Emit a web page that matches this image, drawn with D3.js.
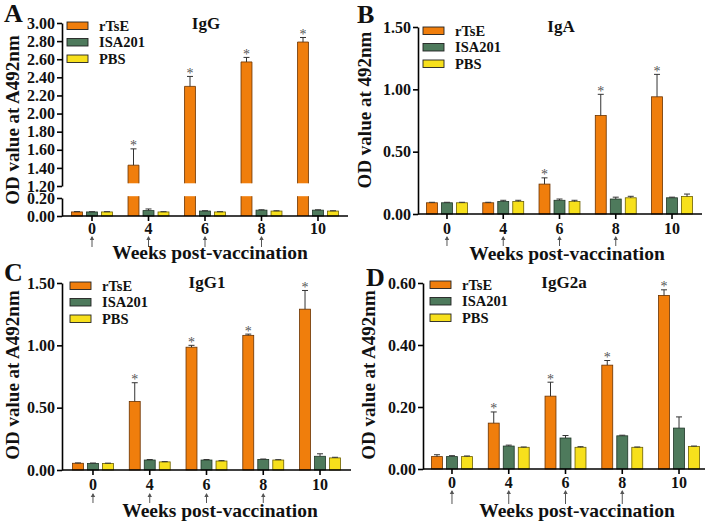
<!DOCTYPE html>
<html><head><meta charset="utf-8">
<script src="https://cdn.jsdelivr.net/npm/d3@7"></script>
<style>body{margin:0;background:#fff}svg{display:block}</style>
</head><body>
<svg id="c" width="708" height="527"></svg>
<script>
// ---------- data ----------
const weeks = ["0","4","6","8","10"];
const series = ["rTsE","ISA201","PBS"];
const arrowWeeks = ["0","4","6","8"];

// Panel A: IgG
const igG_rTsE   = [0.045,1.43,2.30,2.57,2.79];
const igG_rTsE_e = [0.004,0.18,0.11,0.05,0.05];
const igG_ISA    = [0.045,0.060,0.055,0.065,0.065];
const igG_ISA_e  = [0.003,0.018,0.004,0.004,0.004];
const igG_PBS    = [0.045,0.045,0.045,0.055,0.055];
const igG_PBS_e  = [0.003,0.003,0.003,0.003,0.003];
const igG_stars  = ["4","6","8","10"];
const igG_ticksUpper = [1.2,1.4,1.6,1.8,2.0,2.2,2.4,2.6,2.8,3.0];
const igG_ticksLower = [0,0.2];

// Panel B: IgA
const igA_rTsE   = [0.09,0.09,0.24,0.79,0.94];
const igA_rTsE_e = [0.004,0.004,0.05,0.17,0.18];
const igA_ISA    = [0.09,0.10,0.11,0.12,0.13];
const igA_ISA_e  = [0.004,0.01,0.01,0.015,0.005];
const igA_PBS    = [0.09,0.10,0.10,0.13,0.14];
const igA_PBS_e  = [0.004,0.01,0.01,0.012,0.02];
const igA_stars  = ["6","8","10"];
const igA_ticks  = [0,0.5,1.0,1.5];

// Panel C: IgG1
const igG1_rTsE   = [0.054,0.55,0.985,1.08,1.29];
const igG1_rTsE_e = [0.003,0.15,0.015,0.01,0.15];
const igG1_ISA    = [0.053,0.08,0.08,0.085,0.11];
const igG1_ISA_e  = [0.003,0.004,0.004,0.003,0.02];
const igG1_PBS    = [0.053,0.065,0.072,0.08,0.097];
const igG1_PBS_e  = [0.002,0.002,0.003,0.003,0.005];
const igG1_stars  = ["4","6","8","10"];
const igG1_ticks  = [0,0.5,1.0,1.5];

// Panel D: IgG2a
const igG2a_rTsE   = [0.04,0.148,0.235,0.335,0.56];
const igG2a_rTsE_e = [0.006,0.036,0.045,0.015,0.018];
const igG2a_ISA    = [0.04,0.074,0.10,0.107,0.132];
const igG2a_ISA_e  = [0.003,0.003,0.008,0.002,0.036];
const igG2a_PBS    = [0.04,0.07,0.07,0.07,0.073];
const igG2a_PBS_e  = [0.002,0.001,0.002,0.001,0.001];
const igG2a_stars  = ["4","6","8","10"];
const igG2a_ticks  = [0,0.2,0.4,0.6];

// ---------- drawing ----------
const colors = {rTsE:"#F07E0C", ISA201:"#4E7A5C", PBS:"#F7E01C"};
const strokes = {rTsE:"#6a3200", ISA201:"#1f3526", PBS:"#6b5f00"};
const FONT = "'Liberation Serif','Times New Roman',serif";
const svg = d3.select("#c");

function panel(cfg) {
  const g = svg.append("g");
  const x0 = d3.scaleBand().domain(weeks).range([cfg.xl, cfg.xr]);
  const x1 = d3.scaleBand().domain(series).range([-22.5, 22.5]).paddingInner(0.27).paddingOuter(0.135);
  const cx = w => x0(w) + x0.bandwidth()/2;

  let yLow, yUp, yv;
  if (cfg.broken) {
    yLow = d3.scaleLinear().domain([0,0.2]).range(cfg.lowRange);
    yUp = d3.scaleLinear().domain(cfg.upDomain).range(cfg.upRange);
    yv = v => v <= 0.2 ? yLow(v) : yUp(v);
  } else {
    yLow = d3.scaleLinear().domain(cfg.domain).range(cfg.range);
    yv = yLow;
  }

  // bars
  series.forEach((s, si) => {
    weeks.forEach((w, wi) => {
      const v = cfg.vals[si][wi], e = cfg.errs[si][wi];
      const bx = cx(w) + x1(s), bw = x1.bandwidth();
      if (cfg.broken && v > 0.2) {
        g.append("rect").attr("x", bx).attr("width", bw)
          .attr("y", yLow(0.22)).attr("height", yLow(0) - yLow(0.22))
          .attr("fill", colors[s]);
        g.append("rect").attr("x", bx).attr("width", bw)
          .attr("y", yUp(v)).attr("height", yUp(1.23) - yUp(v))
          .attr("fill", colors[s]);
        g.append("path").attr("d", `M${bx},${yUp(1.23)}V${yUp(v)}H${bx+bw}V${yUp(1.23)}M${bx},${yLow(0.22)}V${yLow(0)}M${bx+bw},${yLow(0.22)}V${yLow(0)}`)
          .attr("fill","none").attr("stroke", strokes[s]).attr("stroke-width",0.8);
      } else {
        g.append("rect").attr("x", bx).attr("width", bw)
          .attr("y", yv(v)).attr("height", yv(0) - yv(v))
          .attr("fill", colors[s]).attr("stroke", strokes[s]).attr("stroke-width",0.8);
      }
      // error bar
      const top = yv(v + e), bc = bx + bw/2;
      if (e > 0) {
        g.append("path").attr("d", `M${bc},${yv(v)}V${top}M${bc-3},${top}H${bc+3}`)
          .attr("stroke","#333").attr("stroke-width",1).attr("fill","none");
      }
      if (si === 0 && cfg.stars.includes(w)) {
        g.append("text").attr("x", bc).attr("y", top + 1.5)
          .attr("text-anchor","middle").attr("font-family",FONT)
          .attr("font-size",14).attr("fill","#555").text("*");
      }
    });
  });

  // y axis
  const styleAxis = sel => {
    sel.selectAll("path,line").attr("stroke","#000").attr("stroke-width",1.6);
    sel.selectAll("text").attr("font-family",FONT).attr("font-weight","bold")
      .attr("font-size",16).attr("fill","#111");
  };
  if (cfg.broken) {
    g.append("g").attr("transform",`translate(${cfg.axisX},0)`)
      .call(d3.axisLeft(yUp).tickValues(cfg.ticksUp).tickFormat(d3.format(".2f")).tickSize(5).tickSizeOuter(0).tickPadding(2))
      .call(styleAxis);
    g.append("g").attr("transform",`translate(${cfg.axisX},0)`)
      .call(d3.axisLeft(yLow).tickValues(cfg.ticksLow).tickFormat(d3.format(".2f")).tickSize(5).tickSizeOuter(0).tickPadding(2))
      .call(styleAxis);
  } else {
    g.append("g").attr("transform",`translate(${cfg.axisX},0)`)
      .call(d3.axisLeft(yLow).tickValues(cfg.ticks).tickFormat(d3.format(".2f")).tickSize(5).tickSizeOuter(0).tickPadding(2))
      .call(styleAxis);
  }
  // x axis
  const xa = g.append("g").attr("transform",`translate(0,${yv(0)})`)
    .call(d3.axisBottom(x0).tickSize(5).tickSizeOuter(0).tickPadding(3));
  xa.select(".domain").attr("d", `M${cfg.axisX},0H${cfg.xEnd}`);
  xa.call(styleAxis);
  xa.selectAll("text").attr("font-size",16).attr("dy",null).attr("y", cfg.tickBase - yv(0));

  // arrows
  arrowWeeks.forEach(w => {
    const x = cx(w);
    g.append("path").attr("d", `M${x},${cfg.arrowTop+1}V${cfg.arrowBot}`)
      .attr("stroke","#555").attr("stroke-width",1);
    g.append("path").attr("d", `M${x-2.2},${cfg.arrowTop+4}L${x},${cfg.arrowTop}L${x+2.2},${cfg.arrowTop+4}Z`)
      .attr("fill","#555");
  });

  // x title
  g.append("text").attr("x", cfg.xtX).attr("y", cfg.xtY).attr("text-anchor","middle")
    .attr("font-family",FONT).attr("font-weight","bold").attr("font-size",19.5)
    .attr("fill","#111").text("Weeks post-vaccination");
  // y title
  g.append("text").attr("transform",`translate(${cfg.ytX},${cfg.ytY}) rotate(-90)`)
    .attr("text-anchor","middle").attr("font-family",FONT).attr("font-weight","bold")
    .attr("font-size",19).attr("fill","#111").text(cfg.yTitle);
  // panel title
  g.append("text").attr("x", cfg.tX).attr("y", cfg.tY).attr("text-anchor","middle")
    .attr("font-family",FONT).attr("font-weight","bold").attr("font-size",17)
    .attr("fill","#111").text(cfg.title);
  // letter
  g.append("text").attr("x", cfg.lX).attr("y", cfg.lY)
    .attr("font-family",FONT).attr("font-weight","bold").attr("font-size",26)
    .attr("fill","#111").text(cfg.letter);
  // legend
  series.forEach((s, i) => {
    const yy = cfg.legY + i*16.5;
    g.append("rect").attr("x", cfg.legX).attr("y", yy).attr("width",21).attr("height",7.5)
      .attr("fill", colors[s]).attr("stroke","#222").attr("stroke-width",0.9);
    g.append("text").attr("x", cfg.legX + 32).attr("y", yy + 8.5)
      .attr("font-family",FONT).attr("font-weight","bold").attr("font-size",14.5)
      .attr("fill","#111").text(s);
  });
}

panel({
  broken:true, lowRange:[216,198], upDomain:[1.2,3.0], upRange:[186,23],
  ticksUp: igG_ticksUpper, ticksLow: igG_ticksLower,
  vals:[igG_rTsE, igG_ISA, igG_PBS], errs:[igG_rTsE_e, igG_ISA_e, igG_PBS_e], stars: igG_stars,
  xl:63.75, xr:346.25, axisX:62, xEnd:348, tickBase:234, arrowTop:236, arrowBot:247,
  xtX:210, xtY:259, ytX:19, ytY:120, yTitle:"OD value at A492nm",
  tX:206, tY:29, title:"IgG", lX:4, lY:22, letter:"A", legX:67, legY:22
});
panel({
  domain:[0,1.5], range:[214,27], ticks: igA_ticks,
  vals:[igA_rTsE, igA_ISA, igA_PBS], errs:[igA_rTsE_e, igA_ISA_e, igA_PBS_e], stars: igA_stars,
  xl:418.85, xr:700.15, axisX:418, xEnd:702, tickBase:234, arrowTop:236, arrowBot:246,
  xtX:567, xtY:260, ytX:371, ytY:110, yTitle:"OD value at 492nm",
  tX:561, tY:32, title:"IgA", lX:357, lY:23, letter:"B", legX:423, legY:27
});
panel({
  domain:[0,1.5], range:[470,283], ticks: igG1_ticks,
  vals:[igG1_rTsE, igG1_ISA, igG1_PBS], errs:[igG1_rTsE_e, igG1_ISA_e, igG1_PBS_e], stars: igG1_stars,
  xl:64.6, xr:348.4, axisX:62, xEnd:351, tickBase:490, arrowTop:493, arrowBot:503,
  xtX:220, xtY:517, ytX:19, ytY:375, yTitle:"OD value at A492nm",
  tX:207, tY:288, title:"IgG1", lX:4, lY:281, letter:"C", legX:70, legY:282
});
panel({
  domain:[0,0.6], range:[469,283], ticks: igG2a_ticks,
  vals:[igG2a_rTsE, igG2a_ISA, igG2a_PBS], errs:[igG2a_rTsE_e, igG2a_ISA_e, igG2a_PBS_e], stars: igG2a_stars,
  xl:423.6, xr:707.4, axisX:423, xEnd:705, tickBase:488, arrowTop:490, arrowBot:504,
  xtX:577, xtY:517, ytX:375, ytY:375, yTitle:"OD value at A492nm",
  tX:564, tY:288, title:"IgG2a", lX:366, lY:286, letter:"D", legX:430, legY:281
});
</script>
</body></html>
